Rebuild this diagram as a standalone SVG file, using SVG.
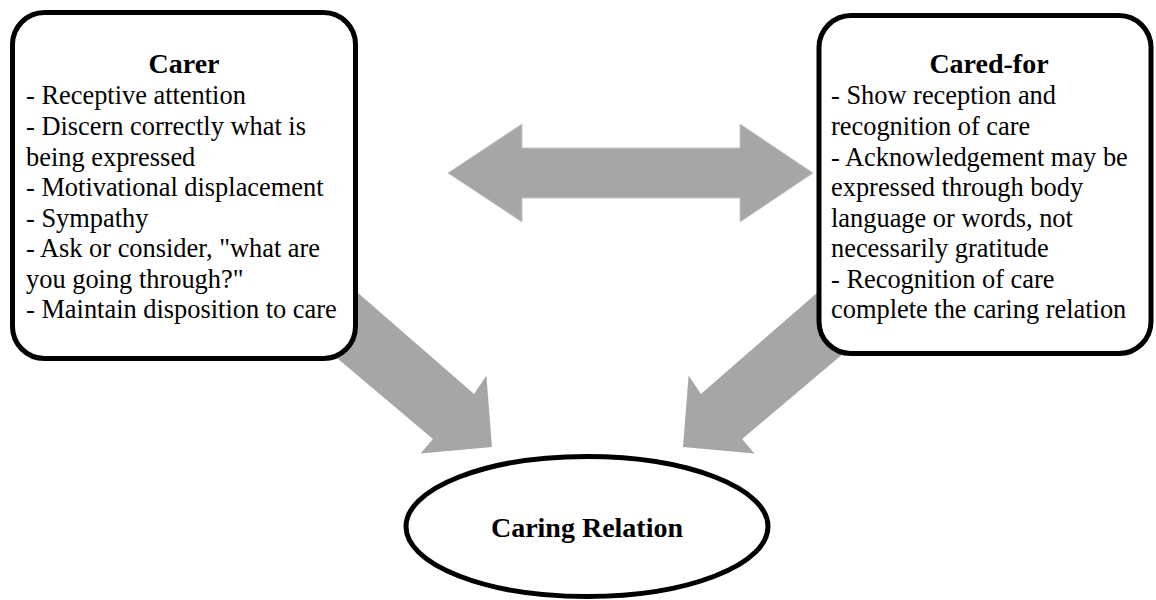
<svg xmlns="http://www.w3.org/2000/svg" width="1156" height="600" viewBox="0 0 1156 600">
<style>
.box{fill:#fff;stroke:#000;stroke-width:5}
.arr{fill:#a6a6a6}
.t{font-family:"Liberation Serif","Times New Roman",serif;font-size:26.4px;fill:#000}
.h{font-family:"Liberation Serif","Times New Roman",serif;font-size:28px;font-weight:bold;fill:#000;text-anchor:middle}
</style>
<rect width="1156" height="600" fill="#fff"/>
<g id="connectors">
<polygon class="arr" stroke="#c4c4c4" stroke-width="1" points="448,173 522,124 522,148 740,148 740,124 813,173 740,222 740,198 522,198 522,222"/>
<polygon class="arr" points="321.3,261.1 474.1,393.9 486.4,375.5 492,447 420.6,453.5 432.9,439 280.1,309.9"/>
<polygon class="arr" points="853.7,261.1 700.9,393.9 688.6,375.5 683,447 754.4,453.5 742.1,439 894.9,309.9"/>
</g>
<g id="carer">
<rect class="box" x="12.5" y="12.5" width="343" height="346" rx="32"/>
<text class="h" x="184" y="73">Carer</text>
<text class="t" x="26" y="104">- Receptive attention</text>
<text class="t" x="26" y="135">- Discern correctly what is</text>
<text class="t" x="26" y="166">being expressed</text>
<text class="t" x="26" y="196">- Motivational displacement</text>
<text class="t" x="26" y="227">- Sympathy</text>
<text class="t" x="26" y="257">- Ask or consider, "what are</text>
<text class="t" x="26" y="288">you going through?"</text>
<text class="t" x="26" y="318">- Maintain disposition to care</text>
</g>
<g id="cared-for">
<rect class="box" x="819" y="15.5" width="332" height="338" rx="32"/>
<text class="h" x="989" y="73">Cared-for</text>
<text class="t" x="831" y="104">- Show reception and</text>
<text class="t" x="831" y="135">recognition of care</text>
<text class="t" x="831" y="166">- Acknowledgement may be</text>
<text class="t" x="831" y="196">expressed through body</text>
<text class="t" x="831" y="227">language or words, not</text>
<text class="t" x="831" y="257">necessarily gratitude</text>
<text class="t" x="831" y="288">- Recognition of care</text>
<text class="t" x="831" y="318">complete the caring relation</text>
</g>
<g id="caring-relation">
<ellipse class="box" cx="587" cy="526.5" rx="181" ry="70" stroke-width="4.5"/>
<text class="h" x="587" y="537">Caring Relation</text>
</g>
</svg>
